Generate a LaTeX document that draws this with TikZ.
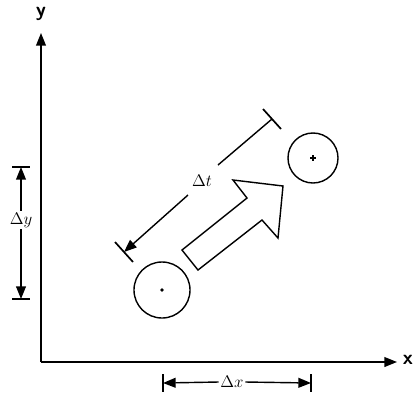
\documentclass[tikz,border=0pt]{standalone}
\usetikzlibrary{arrows.meta}
\begin{document}
\begin{tikzpicture}[
    x=0.025cm, y=-0.025cm,
    every node/.style={font=\large},
    axis/.style={line width=1pt, -{Triangle[length=9pt,width=7pt]}},
    dimline/.style={line width=1pt, -{Triangle[length=9pt,width=7pt]}},
    dimbar/.style={line width=1.2pt},
    ball/.style={circle, draw, line width=1pt, inner sep=0pt},
    axislabel/.style={font=\Large\sffamily\bfseries, inner sep=1pt},
]
\useasboundingbox (0,0) rectangle (414,397);
% axes
\coordinate (O) at (41,362);
\coordinate (ytip) at (41,33);
\coordinate (xtip) at (397,362);
\draw[axis] (O) -- (ytip);
\draw[axis] (O) -- (xtip);
\node[axislabel] (ylab) at (41,14) {y};
\node[axislabel] (xlab) at (408,360) {x};
% delta y
\coordinate (ytop) at (21,167);
\coordinate (ybot) at (21,299);
\node[inner sep=1pt] (dy) at (21,220) {$\Delta y$};
\draw[dimline] (dy.north) -- (ytop);
\draw[dimline] (dy.south) -- (ybot);
\draw[dimbar] (ytop) ++(-9,0) -- ++(18,0);
\draw[dimbar] (ybot) ++(-9,0) -- ++(18,0);
% delta x
\coordinate (xleft) at (163,383);
\coordinate (xright) at (311,383);
\node[inner sep=1pt] (dx) at (232,382) {$\Delta x$};
\draw[dimline] (dx.west) -- (xleft);
\draw[dimline] (dx.east) -- (xright);
\draw[dimbar] (xleft) ++(0,-9) -- ++(0,18);
\draw[dimbar] (xright) ++(0,-9) -- ++(0,18);
% delta t
\coordinate (tlow) at (124,252);
\coordinate (thigh) at (272,119);
\coordinate (tgap1) at (188,195);
\coordinate (tgap2) at (218,165);
\node (dt) at (202,181) {$\Delta t$};
\draw[dimline] (tgap1) -- (tlow);
\draw[line width=1pt] (tgap2) -- (thigh);
\draw[dimbar] (tlow) ++(-9,-10) -- ++(18,20);
\draw[dimbar] (thigh) ++(-9,-10) -- ++(18,20);
% particles
\node[ball, minimum size=1.4cm] (start) at (162,290) {};
\node[ball, minimum size=1.25cm] (stop) at (313,158) {};
\fill (start) circle (1.4pt);
\draw[line width=1pt] (stop) ++(-3,0) -- ++(6,0);
\draw[line width=1pt] (stop) ++(0,-3) -- ++(0,6);
% hollow arrow
\draw[line width=1pt, line join=miter]
    (182,250) -- (247,198) -- (233,180) -- (283,186)
    -- (278,238) -- (262,220) -- (198,270) -- cycle;
\end{tikzpicture}
\end{document}
